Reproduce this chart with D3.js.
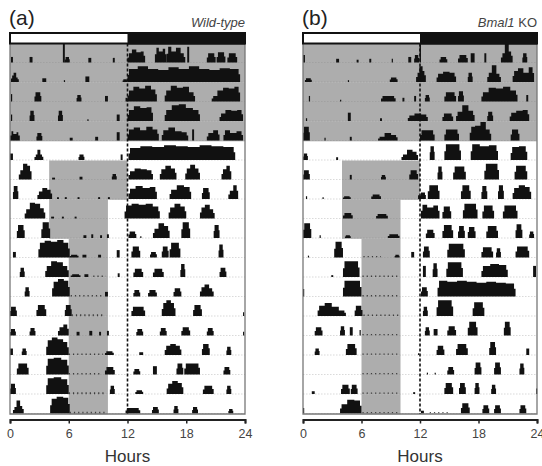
<!DOCTYPE html>
<html>
<head>
<meta charset="utf-8">
<script src="https://cdn.jsdelivr.net/npm/d3@7"></script>
<style>
  body { margin: 0; background: #fff; }
  svg { display: block; font-family: "Liberation Sans", Arial, sans-serif; }
</style>
</head>
<body>
<div id="chart"></div>
<script>
// --- DATA ---
// hours of the day on the x axis
const hourTicks = [0, 6, 12, 18, 24];
const nDays = 19;

// light phase (grey) per day: [start, end] in hours, null = no light
const lightSchedule = [
  [0, 24], [0, 24], [0, 24], [0, 24], [0, 24],
  null,
  [4, 12], [4, 12],
  [4, 10], [4, 10],
  [6, 10], [6, 10], [6, 10], [6, 10], [6, 10], [6, 10], [6, 10], [6, 10], [6, 10]
];

// activity bouts per day: [start h, end h, height (fraction of the row) or list of heights]
const wtBouts = [
  [[0.1,0.3,0.3],[2.0,2.3,0.3],[5.4,5.6,1.0],[5.6,6.1,0.3],[8.0,8.3,0.25],[10.5,10.7,0.25],[12.0,13.8,[0.5,0.7,0.55,0.6]],[14.8,16.0,[0.8,0.6,0.75]],[16.0,17.9,[0.85,0.6,0.8,0.5]],[18.1,18.3,0.85],[20.1,21.0,0.5],[21.1,22.0,0.55],[22.2,23.2,0.5]],
  [[0.1,0.9,[0.35,0.5,0.25]],[3.3,3.7,0.2],[5.5,5.6,0.1],[7.7,8.1,0.3],[11.5,12.0,0.15],[12.0,23.5,[0.7,0.85,0.7,0.65,0.8,0.7,0.85,0.7,0.65,0.75,0.7]]],
  [[0.1,0.2,0.4],[2.5,3.2,0.5],[6.8,7.3,0.35],[9.7,10.0,0.3],[11.8,12.0,0.2],[12.0,15.0,[0.6,0.8,0.7,0.85,0.65]],[15.8,18.9,[0.6,0.85,0.75,0.8,0.5]],[20.6,23.5,[0.3,0.6,0.75,0.7,0.8]]],
  [[0.1,0.2,0.35],[2.0,2.5,0.55],[4.9,5.4,0.55],[7.9,8.0,0.1],[10.9,11.2,0.35],[12.0,14.6,[0.6,0.8,0.7,0.75]],[15.8,19.4,[0.6,0.85,0.9,0.7,0.6]],[21.4,23.8,[0.4,0.6,0.55,0.6]]],
  [[0.0,1.0,[0.5,0.35,0.45]],[2.7,3.3,0.4],[6.1,6.4,0.15],[8.7,9.0,0.2],[10.9,11.2,0.45],[12.0,15.2,[0.6,0.7,0.55,0.75,0.6]],[15.5,18.2,[0.55,0.7,0.5,0.45]],[18.6,18.8,0.6],[20.1,21.4,[0.4,0.55]],[21.8,23.8,[0.55,0.4,0.5]]],
  [[0.0,0.3,0.35],[2.5,3.4,[0.3,0.55,0.3]],[7.0,7.6,0.3],[11.3,11.5,0.3],[12.1,23.0,[0.65,0.75,0.7,0.8,0.75,0.7,0.8,0.75,0.7]]],
  [[0.9,2.2,[0.5,0.85,0.75]],[4.3,4.6,0.1],[7.1,7.4,0.15],[10.4,10.9,0.3],[12.1,14.6,[0.45,0.6,0.55,0.5]],[15.3,17.0,[0.55,0.75,0.6]],[17.9,19.4,[0.6,0.8,0.6]],[21.6,22.6,[0.55,0.75]]],
  [[0.3,0.85,0.7],[2.8,4.3,[0.4,0.6,0.5]],[4.8,5.0,0.1],[5.6,5.8,0.1],[6.9,7.1,0.1],[9.0,9.2,0.1],[10.0,10.2,0.1],[12.1,15.0,[0.55,0.7,0.6,0.65]],[16.3,18.5,[0.5,0.75,0.65]],[19.6,20.4,0.6],[22.3,23.3,[0.45,0.75]]],
  [[1.5,3.6,[0.5,0.85,0.8,0.55]],[4.2,4.5,0.1],[5.3,5.5,0.1],[6.6,6.8,0.1],[11.7,15.3,[0.7,0.8,0.75,0.8,0.65]],[16.2,18.0,[0.6,0.8,0.65]],[19.4,20.9,[0.6,0.75,0.5]]],
  [[0.7,1.5,0.7],[3.2,4.1,0.85],[7.5,7.8,0.15],[8.3,8.5,0.2],[9.2,9.4,0.15],[9.9,10.1,0.2],[12.1,12.9,0.35],[13.3,13.4,0.1],[14.6,16.3,[0.5,0.8,0.65]],[17.5,18.4,0.85],[20.8,21.4,0.7]],
  [[0.3,0.6,0.3],[2.9,6.1,[0.8,0.9,0.85,0.95,0.8]],[6.1,7.0,0.15],[7.4,7.8,0.15],[9.0,9.3,0.15],[10.9,11.2,0.4],[12.4,13.3,0.6],[14.3,15.0,0.3],[15.5,16.2,0.6],[16.3,17.4,0.8],[21.3,21.8,0.7]],
  [[1.0,1.5,0.5],[3.6,6.0,[0.6,0.85,0.8,0.6]],[6.2,7.2,0.15],[7.6,8.0,0.15],[8.5,9.8,0.12],[11.0,11.2,0.2],[12.6,13.6,0.45],[14.6,15.7,0.45],[17.4,17.9,0.7],[21.4,22.1,0.5]],
  [[1.5,2.0,0.5],[4.3,6.1,[0.8,0.95,0.85]],[6.2,9.5,0.12],[9.7,10.0,0.25],[12.6,13.3,0.35],[14.1,15.0,0.35],[16.7,17.5,0.45],[19.4,20.8,[0.5,0.65,0.45]]],
  [[0.0,0.7,0.5],[2.7,3.7,0.6],[5.6,6.3,0.6],[6.3,9.7,0.15],[12.4,13.8,0.5],[15.5,16.9,[0.7,0.85,0.7]],[18.7,19.6,0.6],[23.8,23.9,0.2]],
  [[0.0,0.6,0.35],[2.0,2.6,0.4],[4.9,6.0,[0.45,0.6]],[6.8,7.1,0.2],[8.1,8.4,0.25],[9.1,9.3,0.2],[9.9,10.1,0.25],[12.9,13.6,0.35],[15.3,16.0,0.4],[17.5,18.4,0.45],[20.1,20.8,0.4],[23.8,23.9,0.2]],
  [[0.0,0.3,0.35],[1.2,1.7,0.35],[3.7,6.0,[0.8,0.95,0.85,0.7]],[6.0,9.5,0.12],[9.7,10.6,0.2],[13.2,13.6,0.15],[15.8,17.5,[0.5,0.6,0.5]],[19.6,20.4,0.6],[22.1,22.6,0.45]],
  [[0.7,1.9,0.6],[3.7,6.0,[0.85,0.9,0.8]],[6.0,9.3,0.12],[9.7,10.7,0.4],[12.6,13.3,0.3],[14.6,15.0,0.45],[17.0,17.7,0.6],[17.8,19.4,0.6],[21.8,22.5,0.4]],
  [[0.0,0.6,0.55],[3.7,6.0,[0.85,0.9,0.8]],[6.0,9.8,0.15],[10.2,10.7,0.45],[12.8,13.6,0.2],[16.0,17.7,[0.55,0.7,0.6]],[19.7,20.8,0.45],[22.1,22.6,0.45]],
  [[0.3,1.4,[0.35,0.7,0.4]],[4.1,6.1,[0.8,0.9,0.85]],[6.1,9.8,0.15],[11.8,13.3,0.3],[14.5,15.2,0.35],[16.7,17.2,0.4],[18.6,19.2,0.35],[22.3,22.8,0.25]]
];

const koBouts = [
  [[0.0,0.2,0.4],[3.4,3.7,0.2],[5.5,5.7,0.15],[6.8,7.0,0.2],[9.1,9.2,0.2],[10.8,11.1,0.3],[11.4,11.9,0.4],[11.95,12.1,1.0],[14.0,14.8,0.3],[15.9,16.9,0.4],[17.2,17.6,0.5],[18.6,18.8,0.5],[20.3,21.5,[0.5,1.0,0.6]],[22.5,23.0,0.5]],
  [[0.2,0.9,0.2],[4.6,4.7,0.1],[8.9,9.7,0.25],[11.6,12.6,[0.5,0.85,0.6]],[13.7,15.7,[0.45,0.55,0.5]],[16.9,17.4,0.5],[18.9,20.3,[0.5,0.9,0.45]],[21.5,23.7,[0.6,0.75,0.5,0.8]]],
  [[0.6,0.7,0.3],[3.8,3.9,0.1],[8.0,9.5,0.3],[10.2,10.4,0.2],[11.4,11.6,0.3],[12.5,13.0,0.35],[14.5,15.7,0.5],[15.9,16.5,0.55],[18.3,22.0,[0.5,0.75,0.7,0.8,0.6]],[22.9,23.1,0.35]],
  [[0.3,0.4,0.15],[4.6,4.9,0.45],[7.9,8.1,0.15],[10.75,12.8,[0.3,0.4,0.35]],[14.3,15.4,0.4],[15.7,17.6,[0.5,0.85,0.55]],[18.9,19.5,0.5],[21.2,23.2,[0.45,0.55,0.6]]],
  [[0.0,0.7,0.75],[2.2,2.3,0.15],[4.8,5.0,0.2],[7.7,9.7,[0.2,0.4,0.3]],[12.0,13.5,0.55],[14.5,16.0,0.6],[17.1,19.3,[0.75,0.8,1.0,0.6]],[21.3,22.2,0.6]],
  [[0.0,0.5,0.35],[3.4,3.6,0.15],[10.1,11.8,[0.3,0.55,0.45]],[13.0,13.5,0.75],[14.5,16.2,0.85],[17.2,20.0,[0.85,0.75,0.8]],[21.3,23.0,[0.7,0.75]]],
  [[0.0,0.7,0.5],[4.8,5.0,0.25],[8.0,8.5,0.25],[10.9,11.8,0.5],[13.8,14.3,0.7],[15.4,16.7,0.7],[18.6,20.1,0.85],[21.7,23.0,0.75]],
  [[0.3,0.4,0.15],[2.0,2.1,0.1],[4.1,4.9,0.15],[7.0,8.0,0.25],[11.8,12.0,0.2],[12.0,12.6,0.35],[12.8,14.0,0.75],[16.2,17.2,0.75],[18.3,18.9,0.7],[20.0,20.6,0.75],[21.5,23.4,[0.6,0.75,0.65]]],
  [[4.1,5.1,0.3],[7.5,8.7,0.25],[12.1,14.0,[0.75,0.6,0.7]],[14.3,15.2,0.65],[16.4,17.9,0.8],[18.4,19.6,0.7],[20.5,22.0,0.7]],
  [[0.0,0.85,0.8],[1.7,1.8,0.15],[4.3,4.9,0.15],[8.7,9.9,0.2],[12.6,13.5,0.45],[14.3,15.4,0.7],[15.9,16.6,0.65],[16.9,17.7,0.6],[18.8,20.0,0.65],[21.8,22.5,0.75],[23.2,23.7,0.35]],
  [[0.5,0.6,0.1],[3.2,4.1,0.85],[6.2,8.0,0.1],[9.4,9.9,0.15],[11.1,11.4,0.3],[12.3,13.0,0.6],[14.8,16.6,0.75],[18.3,19.5,0.55],[19.8,20.3,0.5],[21.8,23.2,0.6]],
  [[2.9,3.1,0.1],[4.1,5.8,0.85],[6.1,9.8,0.12],[12.3,12.6,0.6],[13.3,13.8,0.75],[14.7,16.4,0.8],[18.3,21.0,[0.6,0.7,0.65]],[23.6,23.9,0.6]],
  [[0.0,0.1,0.4],[4.1,6.0,0.85],[6.1,9.8,0.12],[12.1,12.8,0.5],[13.8,21.8,[0.85,0.8,0.85,0.8,0.75,0.8,0.75,0.7]]],
  [[1.5,4.4,[0.55,0.7,0.5,0.3]],[5.3,6.1,0.55],[6.2,9.8,0.12],[12.3,12.8,0.5],[13.7,15.4,0.85],[17.4,18.6,0.75]],
  [[1.2,2.0,0.45],[3.8,4.3,0.5],[4.8,5.1,0.45],[5.8,5.9,0.3],[6.1,9.8,0.1],[12.5,13.0,0.45],[13.4,13.8,0.35],[14.8,15.7,0.5],[16.9,17.9,0.75],[20.6,21.3,0.75]],
  [[1.2,1.7,0.35],[4.4,5.5,0.6],[6.1,9.8,0.1],[11.8,11.9,0.1],[13.7,14.5,0.5],[15.7,16.9,0.6],[19.1,19.8,0.7],[22.9,23.2,0.35]],
  [[6.1,9.8,0.1],[12.7,12.8,0.1],[13.5,13.6,0.1],[14.8,15.5,0.4],[17.6,18.3,0.65],[19.6,20.3,0.65],[22.2,22.7,0.6]],
  [[0.9,1.2,0.15],[3.9,4.8,0.5],[4.9,5.6,0.5],[6.1,9.8,0.1],[11.3,11.5,0.1],[14.5,15.4,0.6],[16.0,16.7,0.6],[17.6,18.1,0.6],[19.3,19.8,0.5],[23.9,24.0,0.3]],
  [[0.0,0.1,0.3],[3.8,6.0,[0.5,0.75,0.7]],[6.1,9.8,0.08],[12.1,12.4,0.15],[13.0,15.0,0.06],[16.2,17.1,0.55],[18.4,19.1,0.45],[19.6,20.3,0.45],[22.2,22.9,0.45]]
];

// --- LAYOUT ---
const width = 542, height = 466;
const plotTop = 43.5, plotBottom = 414;
const barTop = 33;
const axisY = 419.5;

const panels = [
  { x0: 10,  x1: 245, tag: "(a)", bouts: wtBouts, geno: [["Wild-type", true]] },
  { x0: 303, x1: 537, tag: "(b)", bouts: koBouts, geno: [["Bmal1", true], [" KO", false]] }
];

const svg = d3.select("#chart").append("svg")
  .attr("width", width)
  .attr("height", height);

panels.forEach(p => drawActogram(svg, p));

// one bout -> outline of a histogram block (shoulders a bit lower than the body)
function boutPath(x, base, maxH, s, e, h) {
  const hs = Array.isArray(h) ? h : [h];
  const n = hs.length;
  const pts = [[x(s), base]];
  const w = x(e) - x(s);
  hs.forEach((v, k) => {
    const a = x(s) + w * k / n, b = x(s) + w * (k + 1) / n;
    const top = base - v * maxH;
    if (k === 0 && w > 4) {
      pts.push([a, base - v * maxH * 0.55], [a + Math.min(1.5, w * 0.15), base - v * maxH * 0.55]);
      pts.push([a + Math.min(1.5, w * 0.15), top]);
    } else {
      pts.push([a, top]);
    }
    if (k === n - 1 && w > 4) {
      pts.push([b - Math.min(1.5, w * 0.15), top], [b - Math.min(1.5, w * 0.15), base - v * maxH * 0.6], [b, base - v * maxH * 0.6]);
    } else {
      pts.push([b, top]);
    }
  });
  pts.push([x(s) + Math.max(w, 1.2), base]);
  if (w < 1.2) { pts[pts.length - 2][0] = x(s) + 1.2; }
  return "M" + pts.map(q => q.join(",")).join("L") + "Z";
}

function drawActogram(svg, p) {
  const g = svg.append("g");
  const x = d3.scaleLinear().domain([0, 24]).range([p.x0, p.x1]);
  const y = d3.scaleLinear().domain([0, nDays]).range([plotTop, plotBottom]);
  const rowH = y(1) - y(0);

  // 1. grey light phases
  g.selectAll("rect.light")
    .data(lightSchedule.map((d, i) => ({ d, i })).filter(o => o.d))
    .enter().append("rect")
    .attr("class", "light")
    .attr("x", o => x(o.d[0]))
    .attr("width", o => x(o.d[1]) - x(o.d[0]))
    .attr("y", o => y(o.i))
    .attr("height", rowH + 0.3)
    .attr("fill", "#adadad");

  // row baselines
  g.selectAll("line.base")
    .data(d3.range(1, nDays + 1))
    .enter().append("line")
    .attr("x1", p.x0).attr("x2", p.x1)
    .attr("y1", i => y(i) - 0.5).attr("y2", i => y(i) - 0.5)
    .attr("stroke", "#8a8a8a")
    .attr("stroke-opacity", 0.45)
    .attr("stroke-width", 0.7)
    .attr("stroke-dasharray", "1.5,1.5");

  // 2. activity bouts
  const maxH = rowH - 1;
  p.bouts.forEach((row, i) => {
    const base = y(i + 1) - 0.5;
    row.forEach(([s, e, h]) => {
      if (!Array.isArray(h) && h <= 0.15 && e - s > 1) {
        // low scattered activity: small specks along the baseline
        g.append("line")
          .attr("x1", x(s)).attr("x2", x(e))
          .attr("y1", base - 0.8).attr("y2", base - 0.8)
          .attr("stroke", "#222")
          .attr("stroke-opacity", 0.8)
          .attr("stroke-width", Math.max(1.2, h * maxH * 0.7))
          .attr("stroke-dasharray", "1.2,3");
      } else {
        g.append("path")
          .attr("d", boutPath(x, base, maxH, s, e, h))
          .attr("fill", "#111");
      }
    });
  });

  // frame of the plot
  g.append("path")
    .attr("d", `M${p.x0},${plotTop}V${plotBottom}H${p.x1}V${plotTop}`)
    .attr("fill", "none")
    .attr("stroke", "#777")
    .attr("stroke-width", 1.3);

  // dotted line at lights-off (12 h)
  g.append("line")
    .attr("x1", x(12)).attr("x2", x(12))
    .attr("y1", plotTop).attr("y2", plotBottom)
    .attr("stroke", "#111")
    .attr("stroke-width", 1.6)
    .attr("stroke-dasharray", "3,2");

  // 3. light/dark bar on top
  g.append("rect")
    .attr("x", x(0)).attr("width", x(24) - x(0))
    .attr("y", barTop).attr("height", plotTop - barTop)
    .attr("fill", "#fff")
    .attr("stroke", "#111")
    .attr("stroke-width", 2);
  g.append("rect")
    .attr("x", x(12)).attr("width", x(24) - x(12))
    .attr("y", barTop - 1).attr("height", plotTop - barTop + 2)
    .attr("fill", "#111");

  // 4. axis
  const axis = g.append("g")
    .attr("transform", `translate(0,${axisY})`)
    .call(d3.axisBottom(x).tickValues(hourTicks).tickSize(4).tickSizeOuter(4).tickPadding(6));
  axis.select(".domain").attr("stroke", "#222").attr("stroke-width", 2);
  axis.selectAll(".tick line").attr("stroke", "#222").attr("stroke-width", 1.5);
  axis.selectAll(".tick text")
    .attr("fill", "#444")
    .style("font-size", "12.5px")
    .style("font-family", "Liberation Sans, Arial, sans-serif");

  g.append("text")
    .attr("x", x(12)).attr("y", 462)
    .attr("text-anchor", "middle")
    .attr("fill", "#333")
    .style("font-size", "17px")
    .text("Hours");

  // 5. titles
  g.append("text")
    .attr("x", p.x0 - 1).attr("y", 25)
    .attr("fill", "#222")
    .style("font-size", "21px")
    .text(p.tag);

  const geno = g.append("text")
    .attr("x", p.x1).attr("y", 27)
    .attr("text-anchor", "end")
    .attr("fill", "#444")
    .style("font-size", "13px");
  p.geno.forEach(([t, it]) => {
    geno.append("tspan").style("font-style", it ? "italic" : "normal").text(t);
  });
}
</script>
</body>
</html>
